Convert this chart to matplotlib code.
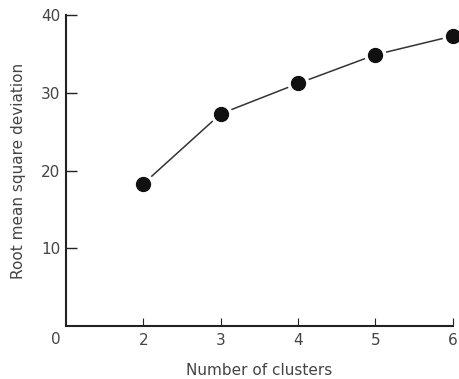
import matplotlib
matplotlib.use("Agg")
import matplotlib.pyplot as plt

# RMS deviation against number of clusters
clusters = [2, 3, 4, 5, 6]
rmsd = [18.3, 27.3, 31.2, 34.9, 37.3]
x_ticks = [2, 3, 4, 5, 6]
y_ticks = [10, 20, 30, 40]
y_tick_labels = ["10", "20", "30", "40"]

ink = "#222222"
text_col = "#444444"
plt.rcParams["font.family"] = ["DejaVu Sans"]

fig = plt.figure(figsize=(4.6, 3.79), dpi=100)
ax = fig.add_axes([0.1435, 0.1398, 0.841, 0.8205])

ax.plot(clusters, rmsd, color="#333333", lw=1.1, zorder=2, clip_on=False)
# white halo so the connecting line stops short of each dot
ax.scatter(clusters, rmsd, s=220, color="white", zorder=3, clip_on=False)
ax.scatter(clusters, rmsd, s=100, color="#111111", zorder=4, clip_on=False)

ax.set_xlim(1, 6)
ax.set_ylim(0, 40)
ax.set_xticks(x_ticks)
ax.set_yticks(y_ticks)
ax.set_yticklabels(y_tick_labels)

for side in ("top", "right"):
    ax.spines[side].set_visible(False)
for side in ("left", "bottom"):
    ax.spines[side].set_linewidth(1.5)
    ax.spines[side].set_color(ink)

ax.tick_params(axis="y", direction="in", length=8, width=1.0, color=ink,
               labelsize=11, labelcolor=text_col, pad=4)
ax.tick_params(axis="x", direction="in", length=6, width=0.8, color=ink,
               labelsize=11, labelcolor=text_col, pad=5)

# origin label in the corner
ax.text(0.93, -0.8, "0", ha="right", va="top", fontsize=11, color=text_col)

ax.set_xlabel("Number of clusters", fontsize=11, color=text_col, labelpad=11)
ax.set_ylabel("Root mean square deviation", fontsize=11, color=text_col,
              labelpad=11)

fig.savefig("out.png", dpi=100)
